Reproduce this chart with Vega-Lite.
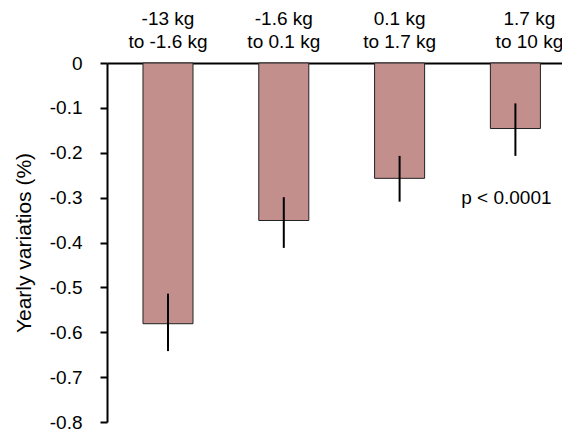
{
  "$schema": "https://vega.github.io/schema/vega-lite/v6.json",
  "autosize": {"type": "none"},
  "padding": {"left": 107, "top": 63, "right": 0, "bottom": 9},
  "width": 455,
  "height": 359,
  "background": "white",
  "config": {
    "font": "Liberation Sans",
    "view": {"stroke": null},
    "axis": {"grid": false, "domainColor": "#000000", "tickColor": "#000000", "labelColor": "#000000", "titleColor": "#000000", "domainWidth": 2, "tickWidth": 2}
  },
  "data": {
    "values": [
      {"group": "-13 kg|to -1.6 kg", "mean": -0.581, "lo": -0.642, "hi": -0.514},
      {"group": "-1.6 kg|to 0.1 kg", "mean": -0.351, "lo": -0.412, "hi": -0.299},
      {"group": "0.1 kg|to 1.7 kg", "mean": -0.257, "lo": -0.309, "hi": -0.207},
      {"group": "1.7 kg|to 10 kg", "mean": -0.146, "lo": -0.207, "hi": -0.090}
    ]
  },
  "encoding": {
    "x": {
      "field": "group",
      "type": "nominal",
      "sort": null,
      "scale": {"paddingInner": 0.568, "paddingOuter": 0.2485, "align": 0.625, "round": false},
      "axis": {
        "orient": "top",
        "title": null,
        "ticks": false,
        "tickSize": 0,
        "labelAngle": 0,
        "labelExpr": "split(datum.label, '|')",
        "labelFontSize": 19,
        "labelLineHeight": 22.5,
        "labelBaseline": "bottom",
        "labelPadding": 34.5,
        "labelOffset": {"condition": {"test": "datum.index === 1", "value": 14}, "value": 0}
      }
    }
  },
  "layer": [
    {
      "mark": {"type": "bar", "color": "#C38F8D", "stroke": "#222222", "strokeWidth": 1},
      "encoding": {
        "y": {
          "field": "mean",
          "type": "quantitative",
          "scale": {"domain": [-0.8, 0], "nice": false, "zero": true},
          "axis": {
            "title": "Yearly variatios (%)",
            "titleFontSize": 21,
            "titleFontWeight": "normal",
            "titlePadding": 15,
            "values": [0, -0.1, -0.2, -0.3, -0.4, -0.5, -0.6, -0.7, -0.8],
            "labelExpr": "datum.value == 0 ? '0' : toString(round(datum.value * 10) / 10)",
            "labelFontSize": 19,
            "labelPadding": 18,
            "tickSize": 7
          }
        }
      }
    },
    {
      "mark": {"type": "rule", "color": "#000000", "strokeWidth": 2},
      "encoding": {
        "y": {"field": "lo", "type": "quantitative"},
        "y2": {"field": "hi"}
      }
    },
    {
      "data": {"values": [{"label": "p < 0.0001"}]},
      "mark": {"type": "text", "fontSize": 19, "align": "center", "baseline": "middle", "dx": -9, "color": "#000000"},
      "encoding": {
        "text": {"field": "label"},
        "x": {"datum": "1.7 kg|to 10 kg"},
        "y": {"datum": -0.301}
      }
    }
  ]
}
